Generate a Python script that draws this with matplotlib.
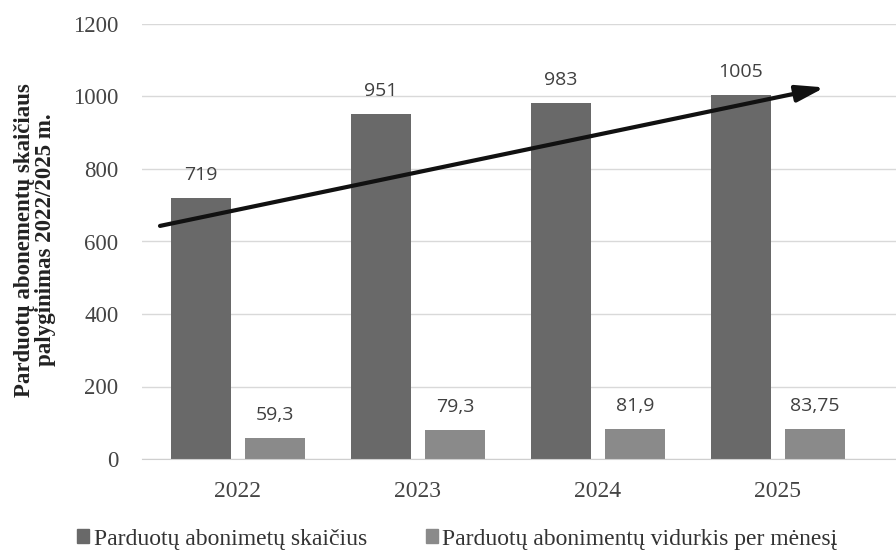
import matplotlib
matplotlib.use("Agg")
import matplotlib.pyplot as plt
from matplotlib.patches import Patch
import numpy as np

years = ["2022", "2023", "2024", "2025"]
sold_total = [719, 951, 983, 1005]
sold_monthly_avg = [59.3, 79.3, 81.9, 83.75]
total_labels = ["719", "951", "983", "1005"]
avg_labels = ["59,3", "79,3", "81,9", "83,75"]
series_names = ["Parduotų abonimetų skaičius", "Parduotų abonimentų vidurkis per mėnesį"]
ylabel = "Parduotų abonementų skaičiaus\npalyginimas 2022/2025 m."
yticks = [0, 200, 400, 600, 800, 1000, 1200]
trend_start = (-0.433, 643)
trend_end = (3.26, 1025)

W, H = 896, 550
fig = plt.figure(figsize=(W / 100, H / 100), dpi=100)
ax = fig.add_axes([142 / W, 1 - 459 / H, (896 - 142) / W, (459 - 24) / H])

x = np.arange(len(years))
w = 0.33
off = 0.205
c1, c2 = "#696969", "#8a8a8a"
ax.bar(x - off, sold_total, w, color=c1, zorder=2)
ax.bar(x + off, sold_monthly_avg, w, color=c2, zorder=2)

lab_font = dict(family="Open Sans", fontsize=14, color="#404040")
for xi, v, t in zip(x, sold_total, total_labels):
    ax.annotate(t, (xi - off, v), xytext=(0, 16.5), textcoords="offset points",
                ha="center", va="center", **lab_font)
for xi, v, t in zip(x, sold_monthly_avg, avg_labels):
    ax.annotate(t, (xi + off, v), xytext=(0, 16.5), textcoords="offset points",
                ha="center", va="center", **lab_font)

ax.annotate("", xy=trend_end, xytext=trend_start,
            arrowprops=dict(arrowstyle="-|>,head_length=1.7,head_width=0.5",
                            color="#111111", lw=3, shrinkA=0, shrinkB=0),
            zorder=5)

ax.set_xlim(-0.533, 3.656)
ax.set_ylim(0, 1200)
ax.set_yticks(yticks)
ax.set_xticks(x)
ax.set_xticklabels(years)
ax.yaxis.grid(True, color="#d9d9d9", lw=1)
ax.set_axisbelow(True)
for s in ["top", "right", "left"]:
    ax.spines[s].set_visible(False)
ax.spines["bottom"].set_color("#cfcfcf")
ax.tick_params(axis="y", length=0, labelsize=16.5, colors="#444444", pad=17)
ax.tick_params(axis="x", length=0, labelsize=17, colors="#444444", pad=16)
for lbl in ax.get_xticklabels() + ax.get_yticklabels():
    lbl.set_family("Liberation Serif")

fig.text(35 / W, 1 - 240 / H, ylabel, rotation=90, ha="center", va="center",
         family="Liberation Serif", fontweight="bold", fontsize=16.5,
         linespacing=1.05, color="#222222")

handles = [Patch(color=c1), Patch(color=c2)]
fig.legend(handles, series_names, loc="center left", bbox_to_anchor=(77 / W, 1 - 539 / H),
           ncol=2, frameon=False, prop=dict(family="Liberation Serif", size=17),
           handlelength=0.5, handleheight=0.5, handletextpad=0.2, columnspacing=2.5,
           labelcolor="#333333", borderaxespad=0, borderpad=0)

fig.savefig("out.png", dpi=100)
